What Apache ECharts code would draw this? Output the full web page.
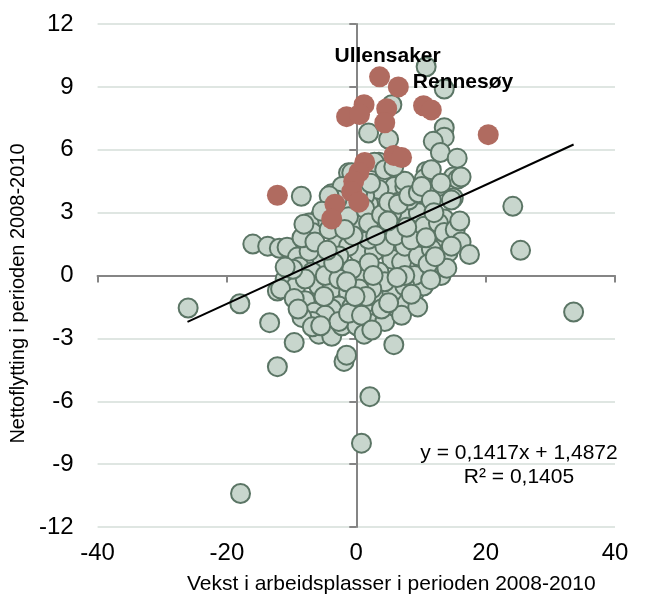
<!DOCTYPE html>
<html>
<head>
<meta charset="utf-8">
<script src="https://cdn.jsdelivr.net/npm/echarts@6/dist/echarts.min.js"></script>
<style>
  html, body { margin: 0; padding: 0; background: #fff; }
  #main { width: 645px; height: 600px; }
</style>
</head>
<body>
<div id="main"></div>
<script>
// kommuner: vekst i arbeidsplasser (x) mot nettoflytting (y), 2008-2010
const greyPoints = [
  [-26.0, -1.55], [-18.0, -1.35], [-17.9, -10.4], [-13.4, -2.25], [-12.2, -4.35],
  [-9.6, -3.2], [-16.0, 1.5], [-13.7, 1.4], [-8.5, 3.78], [-1.9, -4.1],
  [-1.5, -3.8], [5.8, -3.3], [2.1, -5.78], [0.8, -8.0], [24.2, 3.3],
  [25.4, 1.2], [33.6, -1.74], [10.8, 9.96], [13.6, 8.9], [13.6, 7.05],
  [13.6, 6.6], [11.9, 6.4], [13.0, 5.87], [15.6, 5.6], [1.9, 6.8],
  [5.0, 6.5], [5.5, 8.15], [10.8, 4.96], [10.5, 4.6], [12.7, 4.25],
  [15.0, 4.7], [15.7, 4.6], [15.0, 3.7], [9.9, 3.9], [6.5, 4.4],
  [4.4, 4.6], [3.5, 5.4], [3.6, 3.4], [7.4, 3.3], [11.1, 3.06],
  [-6.8, 2.5], [-2.7, 3.9], [-1.2, 4.9],
  [-11.9, 1.3], [-10.7, 1.35], [-9.1, 0.88], [-8.8, 0.4], [-12.2, -0.74],
  [-11.0, -0.17], [-9.4, -0.55], [-7.9, -1.2], [-6.5, -1.75], [-5.8, -2.8],
  [-3.8, -2.9], [-2.2, -2.4], [0.1, -2.4], [2.4, -2.3], [4.4, -2.2],
  [5.8, -1.45], [7.3, -1.35], [9.0, -0.8], [10.4, -0.5], [13.1, 0.0],
  [13.6, 0.4], [12.7, 1.7], [11.6, 2.05], [10.1, 3.8], [3.9, 3.3],
  [1.9, 3.4], [-0.7, 2.7], [-3.0, 1.5], [-5.3, 0.8], [-6.8, 0.17],
  [-5.8, -0.5], [-3.8, -0.64], [-2.2, 0.3], [0.4, 1.1], [2.8, 1.16],
  [5.5, 0.78], [7.0, 0.64], [9.0, 0.0], [3.5, 0.17], [0.8, -0.17],
  [-1.2, -0.8], [-2.7, -1.45], [-0.7, -1.5], [1.3, -1.35], [3.5, -1.1],
  [5.5, -0.8], [7.5, -0.5], [-5.8, 2.7], [-7.3, 2.5], [-6.8, 2.05],
  [-4.2, 3.0], [-2.7, 3.6], [-3.8, 3.9], [4.4, 2.35], [6.5, 2.2],
  [8.1, 2.8], [9.6, 3.0], [10.5, 2.35], [13.6, 2.7], [8.1, 3.6],
  [5.9, 4.25], [7.5, 4.25], [3.5, 4.1], [1.3, 3.8], [-1.2, 1.4],
  [-2.7, 0.93], [1.9, 1.73], [4.4, 1.4], [7.5, 1.4], [9.6, 0.93],
  [-0.7, 0.3], [-4.8, 0.0], [-7.9, -0.17], [-7.3, 1.16], [-8.4, 1.8],
  [-6.4, 1.6], [-4.2, 2.2], [-2.7, 2.8], [-1.2, 3.3], [0.8, 2.5],
  [2.8, 2.7], [1.3, 3.2], [5.5, 3.0], [6.5, 3.5], [12.7, 2.5],
  [13.6, 2.05], [14.2, 1.1], [11.6, 1.26], [11.1, 0.55], [7.5, 0.0],
  [4.4, -0.3], [2.4, -0.64], [0.4, -0.64], [-2.7, -0.17], [-3.8, -1.6],
  [-4.8, -1.9], [-6.8, -2.2], [-2.7, -2.2], [-1.2, -1.8], [0.8, -1.9],
  [3.9, -1.6], [7.0, -1.9],
  [15.3, 2.2], [16.2, 1.6], [17.5, 1.0], [14.7, 1.4], [14.0, 0.35],
  [16.0, 2.6], [2.8, 5.4], [4.4, 5.05], [7.5, 4.5], [-0.7, 4.9],
  [-2.2, 4.25], [-3.0, 3.6], [-4.2, 3.8], [-5.3, 3.06], [-8.1, 2.45],
  [-1.2, 2.8], [1.9, 2.5], [3.9, 2.9], [5.0, 3.5], [6.5, 3.4],
  [8.1, 3.8], [9.6, 3.95], [10.1, 4.25], [11.6, 3.6], [14.7, 3.6],
  [16.2, 4.7], [11.6, 5.05], [13.1, 4.4], [5.8, 5.2],
  [-11.7, -0.64], [-9.6, -1.1], [-8.4, -2.0], [-6.8, -2.45], [1.2, -2.8],
  [2.4, -2.6], [-0.5, 1.9], [2.0, 0.6], [6.0, 1.9], [8.5, 1.7],
  [-3.5, 0.6], [-1.5, -0.3], [1.5, -1.0], [5.0, -1.3], [9.5, -1.5],
  [11.5, -0.2], [3.0, 1.9], [-5.0, -1.0], [-9.8, 0.3], [-11.0, 0.4],
  [12.0, 3.0], [8.5, -0.9], [6.3, -0.1], [-0.2, -1.0], [2.6, 0.0],
  [-4.5, 1.2], [-1.8, 2.2], [0.2, 3.9], [2.2, 4.4], [4.9, 2.6],
  [7.8, 2.3], [10.8, 1.8], [12.2, 0.9], [-9.0, -1.6], [-5.5, -2.4]
];

const redPoints = [
  [3.6, 9.48], [6.5, 9.0], [1.2, 8.15], [-1.5, 7.58], [0.5, 7.68],
  [4.7, 7.96], [4.4, 7.29], [10.4, 8.1], [11.6, 7.9], [20.4, 6.72],
  [5.8, 5.73], [7.0, 5.63], [1.3, 5.39], [0.4, 4.92], [-0.4, 4.5],
  [-0.7, 4.0], [0.4, 3.5], [-12.2, 3.83], [-3.3, 3.4], [-3.8, 2.7]
];
const redNames = ['Ullensaker', 'Rennesøy'];

// trendlinje y = 0,1417x + 1,4872, endepunkter
const trendLine = [[-26.1, -2.21], [33.6, 6.25]];
const equationText = ['y = 0,1417x + 1,4872', 'R² = 0,1405'];

const FONT = "'Liberation Sans', Arial, sans-serif";

let myChart = echarts.init(document.getElementById('main'));

let redData = redPoints.map(function (p, i) {
  if (i === 0) {
    return { value: p, label: { show: true, formatter: redNames[0], position: 'top', distance: 4, offset: [8, 4] } };
  }
  if (i === 1) {
    return { value: p, label: { show: true, formatter: redNames[1], position: 'right', distance: 4, offset: [0, -5] } };
  }
  return p;
});

let option = {
  animation: false,
  backgroundColor: '#fff',
  textStyle: { fontFamily: FONT },
  grid: { left: 94, right: 30, top: 24, bottom: 71 },
  xAxis: [
    {
      type: 'value', min: -40, max: 40, interval: 20, position: 'bottom',
      axisLine: { show: false, onZero: false },
      axisTick: { show: false },
      splitLine: { show: false },
      axisLabel: { fontSize: 24, color: '#000', margin: 14, fontFamily: FONT },
      name: 'Vekst i arbeidsplasser i perioden 2008-2010',
      nameLocation: 'middle', nameGap: 47,
      nameTextStyle: { fontSize: 21, color: '#000', fontFamily: FONT, padding: [0, 0, 0, 70] }
    },
    {
      type: 'value', min: -40, max: 40, interval: 20, position: 'top',
      axisLine: { show: true, onZero: true, onZeroAxisIndex: 0, lineStyle: { color: '#858585', width: 2 } },
      axisTick: { show: true, inside: true, length: 7, lineStyle: { color: '#858585', width: 2 } },
      axisLabel: { show: false },
      splitLine: { show: false }
    }
  ],
  yAxis: [
    {
      type: 'value', min: -12, max: 12, interval: 3, position: 'left',
      axisLine: { show: false, onZero: false },
      axisTick: { show: false },
      splitLine: { show: true, lineStyle: { color: '#dfe6e2', width: 2 } },
      axisLabel: { fontSize: 24, color: '#000', margin: 24, fontFamily: FONT },
      name: 'Nettoflytting i perioden 2008-2010',
      nameLocation: 'middle', nameGap: 52,
      nameTextStyle: { fontSize: 20, color: '#000', fontFamily: FONT, padding: [0, 36, 0, 0] }
    },
    {
      type: 'value', min: -12, max: 12, interval: 3, position: 'right',
      axisLine: { show: true, onZero: true, onZeroAxisIndex: 0, lineStyle: { color: '#858585', width: 2 } },
      axisTick: { show: true, inside: true, length: 7, lineStyle: { color: '#858585', width: 2 } },
      axisLabel: { show: false },
      splitLine: { show: false }
    }
  ],
  graphic: [
    { type: 'text', x: 519, y: 453, style: { text: equationText[0], font: '21px ' + FONT, fill: '#000', align: 'center', verticalAlign: 'middle' } },
    { type: 'text', x: 519, y: 477, style: { text: equationText[1], font: '21px ' + FONT, fill: '#000', align: 'center', verticalAlign: 'middle' } }
  ],
  series: [
    {
      name: 'kommuner', type: 'scatter', xAxisIndex: 0, yAxisIndex: 0,
      symbolSize: 19,
      itemStyle: { color: '#c8d6cd', borderColor: '#5b7565', borderWidth: 2, opacity: 1 },
      data: greyPoints
    },
    {
      name: 'utvalgte', type: 'scatter', xAxisIndex: 0, yAxisIndex: 0,
      symbolSize: 21,
      itemStyle: { color: '#b06b60', opacity: 1 },
      label: { color: '#000', fontSize: 21, fontWeight: 'bold', fontFamily: FONT },
      data: redData
    },
    {
      name: 'trend', type: 'line', xAxisIndex: 0, yAxisIndex: 0,
      symbol: 'none', silent: true,
      lineStyle: { color: '#000', width: 2 },
      data: trendLine
    }
  ]
};
myChart.setOption(option);
</script>
</body>
</html>
